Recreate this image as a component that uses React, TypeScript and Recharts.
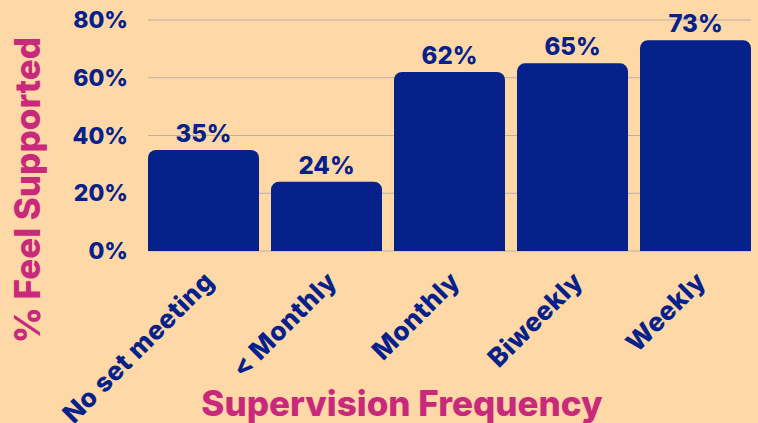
import React from 'react';
import { BarChart, Bar, XAxis, YAxis, CartesianGrid, LabelList, Label } from 'recharts';

const categories = ['No set meeting', '< Monthly', 'Monthly', 'Biweekly', 'Weekly'];
const values = [35, 24, 62, 65, 73];
const yTicks = [0, 20, 40, 60, 80];

const data = categories.map((c, i) => ({ name: c, value: values[i] }));

const BG = '#FED8A6';
const NAVY = '#06218A';
const PINK = '#C9297B';
const FONT = 'Inter, "Open Sans", sans-serif';

const XTick = (props: any) => {
  const { x, y, payload } = props;
  const ax = x + 12;
  const ay = y + 24;
  return (
    <text
      x={ax}
      y={ay}
      transform={`rotate(-45, ${ax}, ${ay})`}
      textAnchor="end"
      fill={NAVY}
      fontFamily={FONT}
      fontWeight={800}
      fontSize={26}
      letterSpacing={0.5}
    >
      {payload.value}
    </text>
  );
};

export default function App() {
  return (
    <div style={{ position: 'fixed', left: 0, top: 0, width: 758, height: 423, background: BG }}>
      <BarChart
        width={758}
        height={423}
        data={data}
        margin={{ top: 20, right: 7, bottom: 0, left: 0 }}
        barCategoryGap={6}
      >
        <CartesianGrid vertical={false} stroke="#BDB0A6" strokeWidth={1} />
        <XAxis
          dataKey="name"
          axisLine={false}
          tickLine={false}
          height={172}
          interval={0}
          padding={{ left: -6, right: -6 }}
          tick={<XTick />}
        >
          <Label
            content={() => (
              <text x={402} y={416} textAnchor="middle" fill={PINK} fontFamily={FONT} fontWeight={800} fontSize={35}>
                Supervision Frequency
              </text>
            )}
          />
        </XAxis>
        <YAxis
          width={148}
          domain={[0, 80]}
          ticks={yTicks}
          axisLine={false}
          tickLine={false}
          tickMargin={14}
          tickFormatter={(v: number) => `${v}%`}
          tick={{ fill: NAVY, fontFamily: FONT, fontWeight: 800, fontSize: 23 }}
        >
          <Label
            content={() => (
              <text
                x={40}
                y={190}
                transform="rotate(-90, 40, 190)"
                textAnchor="middle"
                fill={PINK}
                fontFamily={FONT}
                fontWeight={800}
                fontSize={35}
              >
                % Feel Supported
              </text>
            )}
          />
        </YAxis>
        <Bar dataKey="value" fill={NAVY} radius={[8, 8, 0, 0]} isAnimationActive={false}>
          <LabelList
            dataKey="value"
            position="top"
            offset={8}
            formatter={(v: any) => `${v}%`}
            fill={NAVY}
            fontFamily={FONT}
            fontWeight={800}
            fontSize={24}
          />
        </Bar>
      </BarChart>
    </div>
  );
}
